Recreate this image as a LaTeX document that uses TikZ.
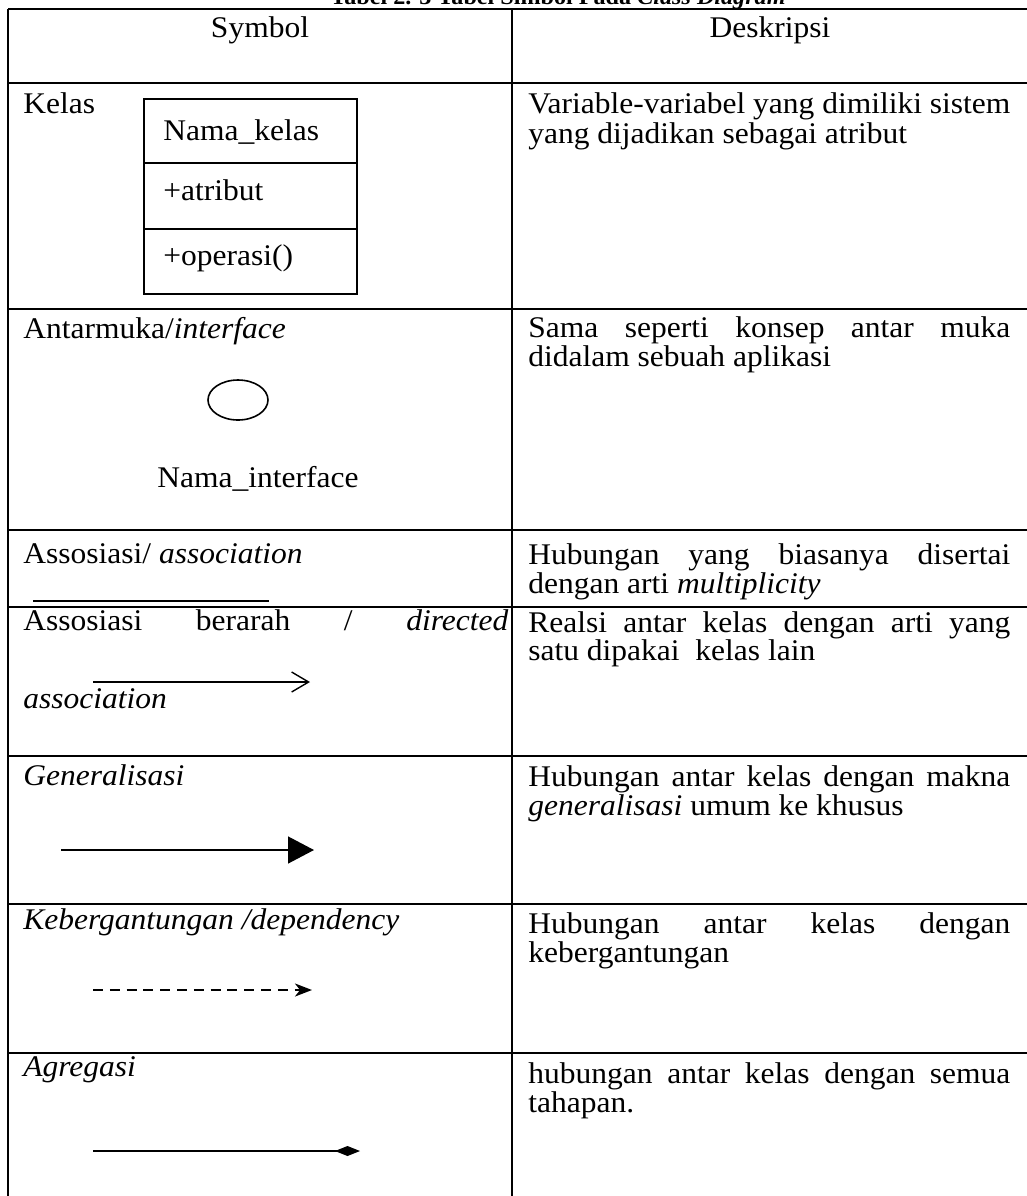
\documentclass[tikz,border=0pt]{standalone}
\usepackage{fontspec}
\setmainfont{Liberation Serif}[FakeStretch=1.05]
\usetikzlibrary{arrows.meta,shapes.geometric}
\newcommand{\jline}[2]{\makebox[#1][s]{#2}}
\begin{document}
\begin{tikzpicture}[x=0.5pt,y=-0.5pt,
  grid/.style={line width=1.1pt},
  txt/.style={anchor=base west, inner sep=0pt, font=\fontsize{15pt}{17pt}\selectfont},
  ctxt/.style={anchor=base, inner sep=0pt, font=\fontsize{15pt}{17pt}\selectfont},
  compart/.style={draw, line width=0.8pt, rectangle, anchor=north west, inner sep=0pt, minimum width=106.5pt},
  sym/.style={line width=0.7pt}]
\useasboundingbox (0,0) rectangle (1027,1196);
\clip (0,0) rectangle (1027,1196);
\fill[white] (0,0) rectangle (1027,1196);

% title (cut off at top)
\node[ctxt, font=\fontsize{11.5pt}{14pt}\selectfont\bfseries] (title) at (558,4) {Tabel 2. 3 Tabel Simbol Pada \textit{Class Diagram}};

% table grid
\foreach \yy in {9,83,309,530,607,756,904,1053}
  \draw[grid] (8,\yy) -- (1040,\yy);
\draw[grid] (8,9) -- (8,1210);
\draw[grid] (512,9) -- (512,1210);

% header
\node[ctxt] (hsym) at (260,37) {Symbol};
\node[ctxt] (hdesc) at (770,37) {Deskripsi};

% row: Kelas
\node[txt] (kelas) at (23,113) {Kelas};
\node[compart, minimum height=32pt] (c1) at (143,98) {};
\node[compart, minimum height=33pt] (c2) at (143,162) {};
\node[compart, minimum height=32.5pt] (c3) at (143,228) {};
\node[txt] (cname) at (163,140) {Nama\_kelas};
\node[txt] (cattr) at (163,200) {+atribut};
\node[txt] (cop) at (163,265) {+operasi()};
\node[txt] (d1a) at (528,113) {\jline{241pt}{Variable-variabel yang dimiliki sistem}};
\node[txt] (d1b) at (528,143) {yang dijadikan sebagai atribut};

% row: interface
\node[txt] (antar) at (23,338) {Antarmuka/\textit{interface}};
\node[draw, ellipse, line width=0.8pt, minimum width=30pt, minimum height=20pt, inner sep=0pt] (ifc) at (238,400) {};
\node[ctxt] (ifname) at (258,487) {Nama\_interface};
\node[txt] (d2a) at (528,337) {\jline{241pt}{Sama seperti konsep antar muka}};
\node[txt] (d2b) at (528,366) {didalam sebuah aplikasi};

% row: association
\node[txt] (assoc) at (23,563) {Assosiasi/ \textit{association}};
\coordinate (as1) at (33,601);
\coordinate (as2) at (269,601);
\draw[sym] (as1) -- (as2);
\node[txt] (d3a) at (528,564) {\jline{241pt}{Hubungan yang biasanya disertai}};
\node[txt] (d3b) at (528,593) {dengan arti \textit{multiplicity}};

% row: directed association
\node[txt] (dir1) at (23,630) {\jline{242.5pt}{Assosiasi berarah / \textit{directed}}};
\node[txt] (dir2) at (23,708) {\textit{association}};
\coordinate (da1) at (93,682);
\coordinate (da2) at (310,682);
\draw[sym, -{Straight Barb[length=8.5pt,width=10pt]}] (da1) -- (da2);
\node[txt] (d4a) at (528,632) {\jline{241pt}{Realsi antar kelas dengan arti yang}};
\node[txt] (d4b) at (528,660) {satu dipakai\ \ kelas lain};

% row: generalisation
\node[txt] (gen) at (23,785) {\textit{Generalisasi}};
\coordinate (g1) at (61,850);
\coordinate (g2) at (314,850);
\draw[sym, -{Triangle[length=13pt,width=13.5pt]}] (g1) -- (g2);
\node[txt] (d5a) at (528,786) {\jline{241pt}{Hubungan antar kelas dengan makna}};
\node[txt] (d5b) at (528,815) {\textit{generalisasi} umum ke khusus};

% row: dependency
\node[txt] (dep) at (23,929) {\textit{Kebergantungan /dependency}};
\coordinate (dp1) at (93,990);
\coordinate (dp2) at (312,990);
\draw[line width=1pt, dash pattern=on 5pt off 3.4pt, -{Stealth[length=8.5pt,width=6.5pt,inset=2.5pt]}] (dp1) -- (dp2);
\node[txt] (d6a) at (528,933) {\jline{241pt}{Hubungan antar kelas dengan}};
\node[txt] (d6b) at (528,962) {kebergantungan};

% row: aggregation
\node[txt] (agr) at (23,1076) {\textit{Agregasi}};
\coordinate (ag1) at (93,1151);
\coordinate (ag2) at (360,1151);
\draw[sym, -{Diamond[length=12.5pt,width=5pt]}] (ag1) -- (ag2);
\node[txt] (d7a) at (528,1083) {\jline{241pt}{hubungan antar kelas dengan semua}};
\node[txt] (d7b) at (528,1112) {tahapan.};
\end{tikzpicture}
\end{document}
